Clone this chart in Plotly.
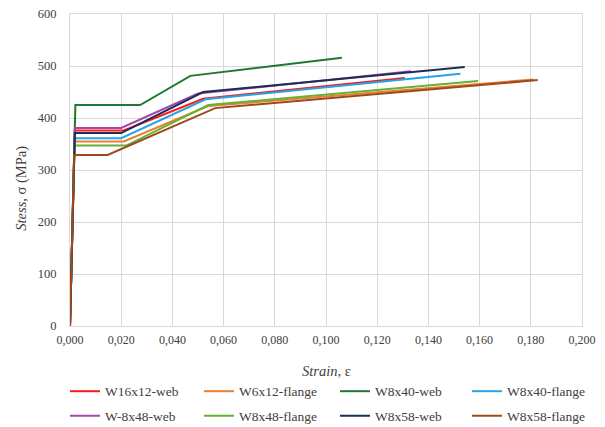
import plotly.graph_objects as go

# Idealised stress-strain curves (strain, stress in MPa) for each coupon
names = ["W16x12-web", "W6x12-flange", "W8x40-web", "W8x40-flange",
         "W-8x48-web", "W8x48-flange", "W8x58-web", "W8x58-flange"]

w16x12_web_strain = [0.0, 0.0019, 0.021, 0.052, 0.1308]
w16x12_web_stress = [0, 376, 376, 437, 477]

w6x12_flange_strain = [0.0, 0.0018, 0.021, 0.054, 0.181]
w6x12_flange_stress = [0, 355, 355, 423, 474]

w8x40_web_strain = [0.0, 0.0021, 0.0274, 0.047, 0.1062]
w8x40_web_stress = [0, 425, 425, 481, 516]

w8x40_flange_strain = [0.0, 0.0018, 0.020, 0.053, 0.1525]
w8x40_flange_stress = [0, 361, 361, 436, 485]

w8x48_web_strain = [0.0, 0.0019, 0.020, 0.050, 0.1332]
w8x48_web_stress = [0, 381, 381, 447, 490]

w8x48_flange_strain = [0.0, 0.0017, 0.022, 0.054, 0.1594]
w8x48_flange_stress = [0, 347, 347, 425, 471]

w8x58_web_strain = [0.0, 0.0019, 0.020, 0.052, 0.1542]
w8x58_web_stress = [0, 371, 371, 450, 498]

w8x58_flange_strain = [0.0, 0.0016, 0.0147, 0.0567, 0.1827]
w8x58_flange_stress = [0, 329, 329, 419, 473]

strains = [w16x12_web_strain, w6x12_flange_strain, w8x40_web_strain, w8x40_flange_strain,
           w8x48_web_strain, w8x48_flange_strain, w8x58_web_strain, w8x58_flange_strain]
stresses = [w16x12_web_stress, w6x12_flange_stress, w8x40_web_stress, w8x40_flange_stress,
            w8x48_web_stress, w8x48_flange_stress, w8x58_web_stress, w8x58_flange_stress]
colors = ["#FF1A1A", "#ED7D31", "#1F7A30", "#22A6E6",
          "#A645AA", "#62B236", "#1B2F55", "#9C4A1A"]

x_ticks = [0.0, 0.02, 0.04, 0.06, 0.08, 0.10, 0.12, 0.14, 0.16, 0.18, 0.20]
y_ticks = [0, 100, 200, 300, 400, 500, 600]

FONT = "Liberation Serif, Times New Roman, DejaVu Serif, serif"
TXT = "#404040"
GRID = "#D9D9D9"

# legend laid out as four columns of two entries each
legend_ids = ["legend", "legend2", "legend3", "legend4"]
legend_x = [-0.0098, 0.252, 0.5176, 0.7754]

fig = go.Figure()
for i, (name, xs, ys, c) in enumerate(zip(names, strains, stresses, colors)):
    fig.add_trace(go.Scatter(x=xs, y=ys, mode="lines", name=name,
                             legend=legend_ids[i % 4], legendgroup=name,
                             line=dict(color=c, width=2)))

legend_common = dict(orientation="v", y=-0.16, yanchor="top", xanchor="left",
                     tracegroupgap=4, font=dict(family=FONT, size=13.5, color=TXT),
                     bgcolor="rgba(0,0,0,0)", borderwidth=0)

layout_legends = {}
for lid, lx in zip(legend_ids, legend_x):
    layout_legends[lid] = dict(legend_common, x=lx)

fig.update_layout(
    width=605, height=427,
    margin=dict(l=70, r=23, t=14, b=101, autoexpand=False),
    paper_bgcolor="white", plot_bgcolor="white",
    separators=",.",
    font=dict(family=FONT, size=12.5, color=TXT),
    xaxis=dict(range=[0, 0.2], tickvals=x_ticks, tickformat=".3f",
               showgrid=True, gridcolor=GRID, gridwidth=1, zeroline=False,
               showline=True, linecolor=GRID, linewidth=1, mirror=True,
               ticks="outside", ticklen=3, tickcolor="rgba(0,0,0,0)",
               tickfont=dict(family=FONT, size=12, color=TXT)),
    yaxis=dict(range=[0, 600], tickvals=y_ticks,
               showgrid=True, gridcolor=GRID, gridwidth=1, zeroline=False,
               showline=True, linecolor=GRID, linewidth=1, mirror=True,
               ticks="outside", ticklen=10, tickcolor="rgba(0,0,0,0)",
               tickfont=dict(family=FONT, size=12.5, color=TXT)),
    annotations=[
        dict(text="<i>Strain</i>, ε", xref="paper", yref="paper",
             x=0.5, y=-0.145, xanchor="center", yanchor="middle",
             showarrow=False, font=dict(family=FONT, size=14.5, color=TXT)),
        dict(text="<i>Stess</i>, σ (MPa)", xref="paper", yref="paper",
             x=-0.094, y=0.443, xanchor="center", yanchor="middle", textangle=-90,
             showarrow=False, font=dict(family=FONT, size=14.5, color=TXT)),
    ],
    **layout_legends,
)

fig.write_html("out.html")
